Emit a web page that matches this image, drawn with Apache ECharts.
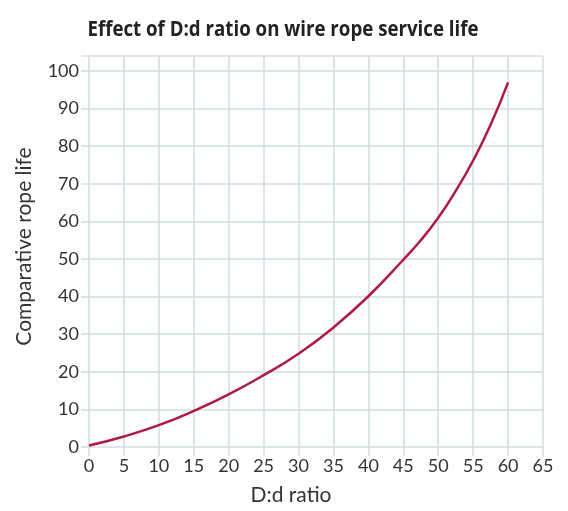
<!DOCTYPE html>
<html><head><meta charset="utf-8">
<script src="https://cdn.jsdelivr.net/npm/echarts@6/dist/echarts.min.js"></script>
<style>html,body{margin:0;padding:0;background:#fff}#c{width:568px;height:511px}</style>
</head><body><div id="c"></div>
<script>
const ratios = [0, 5, 10, 15, 20, 25, 30, 35, 40, 45, 47.5, 50, 52.5, 55, 57.5, 60];
const life = [0.4, 2.8, 5.8, 9.6, 14.0, 19.1, 24.8, 31.8, 40.1, 49.8, 55.0, 61.0, 68.1, 76.2, 85.7, 97.0];
const titleText = 'Effect of D:d ratio on wire rope service life';
const xName = 'D:d ratio';
const yName = 'Comparative rope life';

const chart = echarts.init(document.getElementById('c'));
const gridColor = '#d3dde0';
const font = 'Lato, "Open Sans", sans-serif';
chart.setOption({
  animation: false,
  graphic: [{
    type: 'text', x: 283, y: 30, scaleX: 0.89, scaleY: 1,
    style: {
      text: titleText, align: 'center', verticalAlign: 'middle',
      fontFamily: '"Open Sans", Lato, sans-serif', fontWeight: 'bold', fontSize: 21, fill: '#222'
    }
  }],
  grid: { left: 89, right: 25, top: 56, bottom: 62 },
  xAxis: {
    type: 'value', min: 0, max: 65, interval: 5,
    name: xName, nameLocation: 'middle', nameGap: 38,
    nameTextStyle: { fontFamily: font, fontSize: 21, color: '#333', padding: [0, 50, 0, 0] },
    axisLine: { show: false },
    axisTick: { show: true, length: 9, lineStyle: { color: gridColor, width: 1.5 } },
    axisLabel: { fontFamily: font, fontSize: 18, color: '#333', margin: 10 },
    splitLine: { show: true, lineStyle: { color: gridColor, width: 1.5 } }
  },
  yAxis: {
    type: 'value', min: 0, max: 104, interval: 10,
    name: yName, nameLocation: 'middle', nameGap: 54, nameRotate: 90,
    nameTextStyle: { fontFamily: font, fontSize: 21, color: '#333', padding: [0, 0, 0, 10] },
    axisLine: { show: false },
    axisTick: { show: true, length: 8, lineStyle: { color: gridColor, width: 1.5 } },
    axisLabel: { fontFamily: font, fontSize: 18, color: '#333', margin: 10,
      formatter: v => (v % 10 === 0 && v <= 100) ? String(v) : '' },
    splitLine: { show: true, lineStyle: { color: gridColor, width: 1.5 } }
  },
  series: [{
    type: 'line', smooth: 0.5, symbol: 'none',
    data: ratios.map((r, i) => [r, life[i]]),
    lineStyle: { color: '#b01a42', width: 2.5 }
  }]
});
</script></body></html>
